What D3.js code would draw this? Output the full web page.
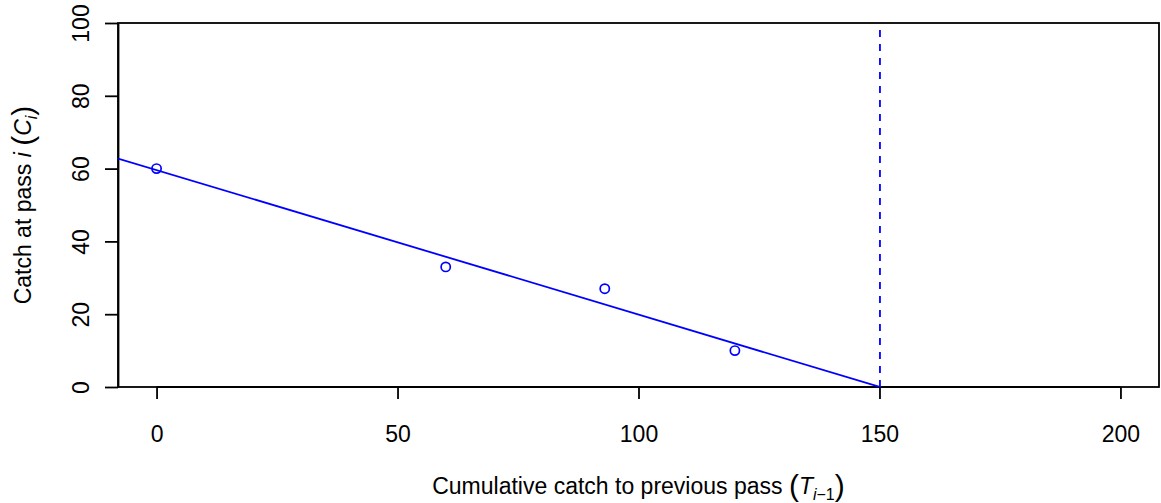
<!DOCTYPE html>
<html>
  <head>
    <meta charset="utf-8">
    <title>Depletion plot</title>
    <script src="https://d3js.org/d3.v7.min.js"></script>
    <style>
      body { margin: 0; background: #fff; }
      svg { display: block; font-family: 'Liberation Sans', Arial, Helvetica, sans-serif; }
      .axis text { font-size: 23px; fill: #000; }
      .axis path, .axis line { stroke: #000; stroke-width: 1.8; }
    </style>
  </head>
  <body>
    <svg id="svg"></svg>
    <script>
// catch data: cumulative catch to previous pass vs catch at pass i
var cumCatch = [0, 60, 93, 120];
var passCatch = [60, 33, 27, 10];

// fitted line and estimated N0
var fitIntercept = 59.6;
var fitSlope = -0.397;
var nHat = 150.1;

var xTicks = [0, 50, 100, 150, 200];
var yTicks = [0, 20, 40, 60, 80, 100];

var width = 1161, height = 503;
var margin = {top: 23, right: 2, bottom: 116, left: 118};

var svg = d3.select('#svg').attr('width', width).attr('height', height);

var x = d3.scaleLinear().domain([-8, 208]).range([margin.left, width - margin.right]);
var y = d3.scaleLinear().domain([0, 100]).range([height - margin.bottom, margin.top]);

svg.append('clipPath').attr('id', 'plotclip')
  .append('rect')
  .attr('x', x.range()[0]).attr('y', y.range()[1])
  .attr('width', x.range()[1] - x.range()[0])
  .attr('height', y.range()[0] - y.range()[1]);

// x axis
var xAxis = svg.append('g').attr('class', 'axis')
  .attr('transform', 'translate(0,' + y(0) + ')')
  .call(d3.axisBottom(x).tickValues(xTicks).tickSize(12).tickSizeOuter(0).tickFormat(d3.format('d')));
xAxis.select('.domain').attr('d', 'M' + x(0) + ',0H' + x(200));
xAxis.selectAll('text').attr('y', 55).attr('dy', null);

// y axis
var yAxis = svg.append('g').attr('class', 'axis')
  .attr('transform', 'translate(' + x(-8) + ',0)')
  .call(d3.axisLeft(y).tickValues(yTicks).tickSize(13).tickSizeOuter(0));
yAxis.selectAll('text')
  .attr('x', null).attr('dy', null)
  .attr('text-anchor', 'middle')
  .attr('transform', 'translate(-29,0) rotate(-90)');

// box
svg.append('rect')
  .attr('x', x.range()[0]).attr('y', y.range()[1])
  .attr('width', x.range()[1] - x.range()[0])
  .attr('height', y.range()[0] - y.range()[1])
  .style('fill', 'none').style('stroke', '#000').style('stroke-width', 1.8);

var plot = svg.append('g').attr('clip-path', 'url(#plotclip)');

// fitted line
plot.append('line')
  .attr('x1', x(-8)).attr('y1', y(fitIntercept + fitSlope * -8))
  .attr('x2', x(208)).attr('y2', y(fitIntercept + fitSlope * 208))
  .style('stroke', '#0000ff').style('stroke-width', 1.8);

// vertical dashed line at N0
plot.append('line')
  .attr('x1', x(nHat)).attr('y1', y(0))
  .attr('x2', x(nHat)).attr('y2', y(100))
  .style('stroke', '#0000ff').style('stroke-width', 1.8)
  .style('stroke-dasharray', '7,7');

// points
plot.selectAll('circle')
  .data(cumCatch)
  .enter()
  .append('circle')
  .attr('cx', function(d) { return x(d); })
  .attr('cy', function(d, i) { return y(passCatch[i]); })
  .attr('r', 4.6)
  .style('fill', 'none').style('stroke', '#0000ff').style('stroke-width', 1.7);

// x label
var xl = svg.append('text')
  .attr('x', (x.range()[0] + x.range()[1]) / 2)
  .attr('y', 494)
  .attr('text-anchor', 'middle')
  .style('font-size', '23px');
xl.append('tspan').text('Cumulative catch to previous pass ');
xl.append('tspan').attr('dy', 2).style('font-size', '30px').text('(');
xl.append('tspan').attr('dy', -2).style('font-style', 'italic').text('T');
xl.append('tspan').attr('dy', 6).style('font-size', '16px').style('font-style', 'italic').text('i');
xl.append('tspan').style('font-size', '16px').text('\u22121');
xl.append('tspan').attr('dy', -4).style('font-size', '30px').text(')');

// y label
var yl = svg.append('text')
  .attr('transform', 'translate(31,' + (y.range()[0] + y.range()[1]) / 2 + ') rotate(-90)')
  .attr('text-anchor', 'middle')
  .style('font-size', '23px');
yl.append('tspan').text('Catch at pass ');
yl.append('tspan').style('font-style', 'italic').text('i');
yl.append('tspan').text(' ');
yl.append('tspan').attr('dy', 2).style('font-size', '30px').text('(');
yl.append('tspan').attr('dy', -2).style('font-style', 'italic').text('C');
yl.append('tspan').attr('dy', 6).style('font-size', '16px').style('font-style', 'italic').text('i');
yl.append('tspan').attr('dy', -4).style('font-size', '30px').text(')');
    </script>
  </body>
</html>
